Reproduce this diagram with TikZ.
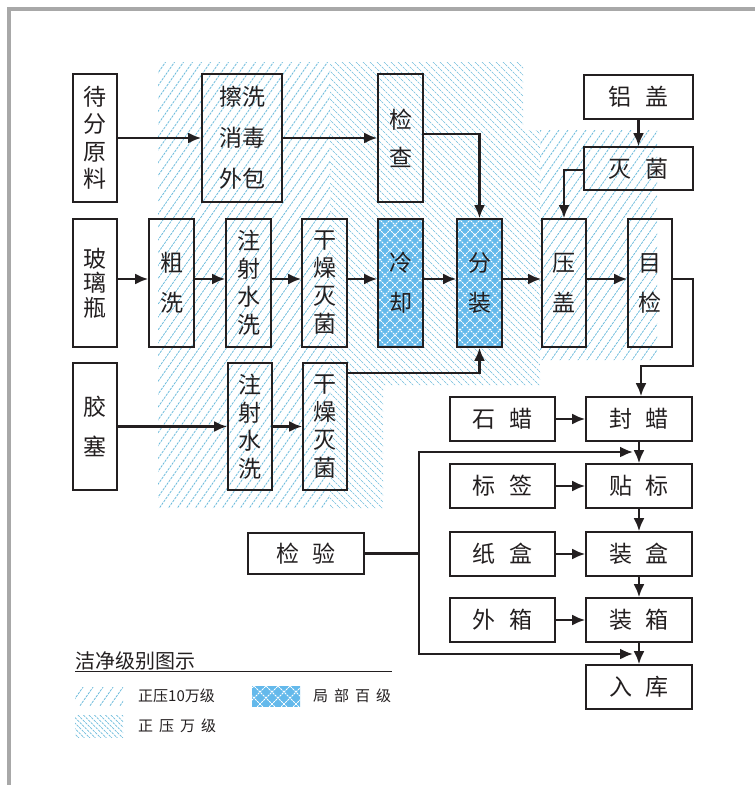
\documentclass[tikz,border=0pt]{standalone}
\usepackage{fontspec}
\newfontfamily\cjk{Noto Sans CJK SC}
\usetikzlibrary{arrows.meta}
\definecolor{hatchblue}{RGB}{110,188,220}
\definecolor{crossblue}{RGB}{100,185,235}
\definecolor{framegray}{RGB}{168,168,168}
\definecolor{ink}{RGB}{35,31,32}
\newcommand{\gapA}{\hspace{0.6em}}
\newcommand{\gapB}{\hspace{0.4em}}
\begin{document}
\begin{tikzpicture}[x=1pt,y=-1pt,
  box/.style={draw=ink, line width=1.8pt, inner sep=0pt, align=center, text=ink,
              font=\cjk\fontsize{23}{28}\selectfont},
  tall/.style={box, minimum width=45, minimum height=128},
  wide/.style={box, minimum width=106, minimum height=44},
  arr/.style={draw=ink, line width=2.2pt, -{Latex[length=13pt,width=11pt]}},
  plain/.style={draw=ink, line width=2.2pt},
  hatchA/.style={hatchblue, line width=0.8pt, dash pattern=on 2.5pt off 1pt},
  hatchB/.style={hatchblue, line width=0.7pt, dash pattern=on 2.5pt off 1pt},
  crossline/.style={white, line width=1pt, dash pattern=on 2pt off 1pt},
  legend/.style={inner sep=0pt, anchor=west, text=ink, font=\cjk\fontsize{15}{15}\selectfont}]
\useasboundingbox (0,0) rectangle (755,785);
% frame
\draw[framegray, line width=4pt] (8.5,785) -- (8.5,8.5) -- (755,8.5);

% ---------- clean zones ----------
% 10万级 "/" hatch
\begin{scope}
\clip (158,62) rectangle (330,508) (540,130) rectangle (657,360);
\foreach \k in {-60,...,80} \draw[hatchA] (\k*9,800) -- ++(560,-800);
\end{scope}
% 万级 "\" hatch
\begin{scope}
\clip (330,62) -- (523,62) -- (523,130) -- (540,130) -- (540,385) -- (383,385) -- (383,508) -- (330,508) -- cycle;
\foreach \k in {-35,...,90} \draw[hatchB] (\k*7,0) -- ++(800,800);
\end{scope}
% 局部百级 cross hatch
\begin{scope}
\clip (378,219) rectangle (423,347) (457,219) rectangle (502,347);
\fill[crossblue] (370,210) rectangle (510,355);
\foreach \k in {0,...,90} {
  \draw[crossline] (\k*10,0) -- ++(400,400);
  \draw[crossline] (\k*10,0) -- ++(-400,400);
}
\end{scope}

% ---------- row 1 ----------
\node[tall, minimum width=44, font=\cjk\fontsize{23}{27.5}\selectfont] (dfyl) at (95,138) {待\\分\\原\\料};
\node[tall, minimum width=80, font=\cjk\fontsize{23}{41}\selectfont] (cx) at (242,138) {擦洗\\消毒\\外包};
\node[tall, font=\cjk\fontsize{23}{38}\selectfont] (jc) at (400.5,138) {检\\查};

% ---------- row 2 ----------
\node[tall, minimum width=44, font=\cjk\fontsize{23}{24.5}\selectfont] (blp) at (95,283) {玻\\璃\\瓶};
\node[tall, font=\cjk\fontsize{23}{40}\selectfont] (cux) at (171.5,283) {粗\\洗};
\node[tall, font=\cjk\fontsize{23}{28}\selectfont] (zs1) at (248.5,283) {注\\射\\水\\洗};
\node[tall, font=\cjk\fontsize{23}{28}\selectfont] (gz1) at (324.5,283) {干\\燥\\灭\\菌};
\node[tall, font=\cjk\fontsize{23}{40}\selectfont] (lq) at (400.5,283) {冷\\却};
\node[tall, font=\cjk\fontsize{23}{40}\selectfont] (fz) at (479.5,283) {分\\装};
\node[tall, minimum width=44, font=\cjk\fontsize{23}{40}\selectfont] (yg) at (564,283) {压\\盖};
\node[tall, minimum width=44, font=\cjk\fontsize{23}{40}\selectfont] (mj) at (650,283) {目\\检};

\node[wide, minimum width=109] (lg) at (638.5,97) {铝\gapA 盖};
\node[wide, minimum width=109, minimum height=43] (mjun) at (638.5,168.5) {灭\gapA 菌};

% ---------- row 3 ----------
\node[tall, minimum width=44, minimum height=127, font=\cjk\fontsize{23}{40}\selectfont] (jz) at (95,426.5) {胶\\塞};
\node[tall, minimum width=44, minimum height=127, font=\cjk\fontsize{23}{28}\selectfont] (zs2) at (250,426.5) {注\\射\\水\\洗};
\node[tall, minimum width=44, minimum height=127, font=\cjk\fontsize{23}{28}\selectfont] (gz2) at (325,426.5) {干\\燥\\灭\\菌};

% ---------- packaging ----------
\node[wide, minimum width=105] (sl) at (502.5,419) {石\gapA 蜡};
\node[wide] (fl) at (639,419) {封\gapA 蜡};
\node[wide, minimum width=105] (bq) at (502.5,486) {标\gapA 签};
\node[wide] (tb) at (639,486) {贴\gapA 标};
\node[wide, minimum width=105] (zh) at (502.5,554) {纸\gapA 盒};
\node[wide] (zhe) at (639,554) {装\gapA 盒};
\node[wide, minimum width=105] (wx) at (502.5,620) {外\gapA 箱};
\node[wide] (zx) at (639,620) {装\gapA 箱};
\node[wide] (rk) at (639,687) {入\gapA 库};
\node[wide, minimum width=116, minimum height=41] (jy) at (306,553.5) {检\gapA 验};

% ---------- connectors ----------
\draw[arr] (dfyl) -- (cx);
\draw[arr] (cx) -- (jc);
\draw[arr] ([yshift=4pt]jc.east) -| (fz.north);

\draw[arr] ([yshift=4pt]blp.east) -- ([yshift=4pt]cux.west);
\draw[arr] ([yshift=4pt]cux.east) -- ([yshift=4pt]zs1.west);
\draw[arr] ([yshift=4pt]zs1.east) -- ([yshift=4pt]gz1.west);
\draw[arr] ([yshift=4pt]gz1.east) -- ([yshift=4pt]lq.west);
\draw[arr] ([yshift=4pt]lq.east) -- ([yshift=4pt]fz.west);
\draw[arr] ([yshift=4pt]fz.east) -- ([yshift=4pt]yg.west);
\draw[arr] ([yshift=4pt]yg.east) -- ([yshift=4pt]mj.west);

\draw[arr] (lg) -- (mjun);
\draw[arr] ([yshift=-1.5pt]mjun.west) -| (yg.north);

\coordinate (m1) at (693,279);
\coordinate (m2) at (693,366);
\coordinate (m3) at (641,366);
\draw[arr] ([yshift=4pt]mj.east) -- (m1) -- (m2) -- (m3) -- (fl.north -| m3);

\draw[arr] (jz) -- (zs2);
\draw[arr] (zs2) -- (gz2);
\draw[arr] ([yshift=-11pt]gz2.north east) -| (fz.south);

\draw[arr] (sl) -- (fl);
\draw[arr] (bq) -- (tb);
\draw[arr] (zh) -- (zhe);
\draw[arr] (wx) -- (zx);
\draw[arr] (fl) -- (tb);
\draw[arr] (tb) -- (zhe);
\draw[arr] (zhe) -- (zx);
\draw[arr] (zx) -- (rk);

\coordinate (jn) at (419,553.5);
\coordinate (ja) at (419,452);
\coordinate (jat) at (633,452);
\coordinate (jb) at (419,654);
\coordinate (jbt) at (633,654);
\draw[plain] (jy.east) -- (jn);
\draw[arr] (jn) -- (ja) -- (jat);
\draw[arr] (jn) -- (jb) -- (jbt);

% ---------- legend ----------
\node[legend, font=\cjk\fontsize{20}{20}\selectfont] (lt) at (75,661) {洁净级别图示};
\draw[ink, line width=1.2pt] (75,671.5) -- (392,671.5);
\begin{scope}
\clip (75,687) rectangle (123,705);
\foreach \k in {0,...,12} \draw[hatchA] (50+\k*10,720) -- ++(28,-40);
\end{scope}
\begin{scope}
\clip (75,715) rectangle (123,737);
\foreach \k in {0,...,20} \draw[hatchB] (40+\k*5.5,710) -- ++(30,30);
\end{scope}
\begin{scope}
\clip (252,686) rectangle (300,706);
\fill[crossblue] (250,684) rectangle (302,708);
\foreach \k in {0,...,12} {
  \draw[crossline] (200+\k*12,680) -- ++(40,40);
  \draw[crossline] (260+\k*12,680) -- ++(-40,40);
}
\end{scope}
\node[legend] (l1) at (138,696) {正压10万级};
\node[legend] (l2) at (138,726) {正\gapB 压\gapB 万\gapB 级};
\node[legend] (l3) at (313,696) {局\gapB 部\gapB 百\gapB 级};
\end{tikzpicture}
\end{document}
